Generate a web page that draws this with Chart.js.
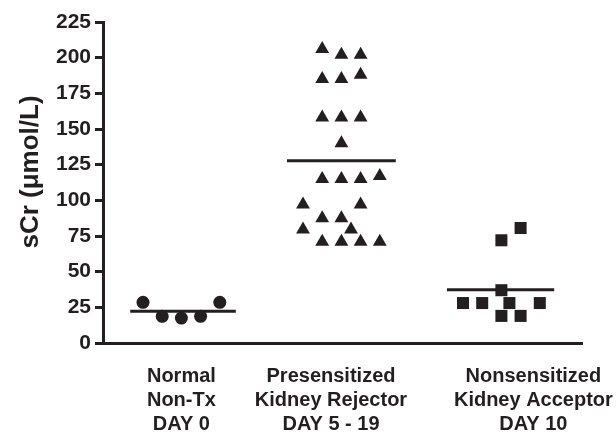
<!DOCTYPE html>
<html>
<head>
<meta charset="utf-8">
<script src="https://cdn.jsdelivr.net/npm/chart.js@4.4.1/dist/chart.umd.min.js"></script>
<style>
  body { margin: 0; background: #fff; }
  #wrap { width: 616px; height: 434px; }
</style>
</head>
<body>
<div id="wrap"><canvas id="myChart" width="616" height="434"></canvas></div>
<script>
// category labels (multi line) and where they sit on the x scale
const categories = [
    ["Normal", "Non-Tx", "DAY 0"],
    ["Presensitized", "Kidney Rejector", "DAY 5 - 19"],
    ["Nonsensitized", "Kidney Acceptor", "DAY 10"]
];
const labelPositions = [0.49, 1.425, 2.69];

const yMin = 0;
const yMax = 225;
const yStep = 25;
const yTitle = "sCr (\u03bcmol/L)";

// Normal Non-Tx, day 0
const normalX = [0.25, 0.37, 0.49, 0.61, 0.73];
const normalY = [28.5, 18.7, 17.5, 18.7, 28.5];
const normalMeanX = [0.17, 0.83];
const normalMean = 22.2;

// Presensitized kidney rejector, day 5-19
const rejectorX = [1.37, 1.49, 1.61, 1.37, 1.49, 1.61, 1.37, 1.49, 1.61, 1.49,
                   1.37, 1.49, 1.61, 1.73, 1.25, 1.61, 1.37, 1.49, 1.25, 1.55,
                   1.37, 1.49, 1.61, 1.73];
const rejectorY = [206, 202, 202, 185, 185, 188, 158, 158, 158, 140,
                   115, 115, 115, 117, 97, 97, 87.5, 87.5, 79.5, 79.5,
                   71, 71, 71, 71];
const rejectorMeanX = [1.15, 1.83];
const rejectorMean = 127.8;

// Nonsensitized kidney acceptor, day 10
const acceptorX = [2.61, 2.49, 2.49, 2.25, 2.37, 2.54, 2.73, 2.49, 2.61];
const acceptorY = [80.6, 72, 37, 28, 28, 28, 28, 19, 19];
const acceptorMeanX = [2.15, 2.82];
const acceptorMean = 37.4;

const ink = "#231f20";
const fontFamily = "'Liberation Sans', Arial, sans-serif";

const toPoints = (xs, ys) => xs.map((x, i) => ({ x: x, y: ys[i] }));
const meanLine = (xs, m) => xs.map(x => ({ x: x, y: m }));

const pointSet = (xs, ys, style, radius) => ({
    type: "scatter",
    data: toPoints(xs, ys),
    pointStyle: style,
    pointRadius: radius,
    pointBackgroundColor: ink,
    pointBorderColor: ink,
    pointBorderWidth: 0,
    showLine: false
});

const lineSet = (xs, m) => ({
    type: "line",
    data: meanLine(xs, m),
    borderColor: ink,
    borderWidth: 3,
    pointRadius: 0,
    fill: false
});

// rotated y title drawn by hand so it sits where the reference has it
const yTitlePlugin = {
    id: "yTitle",
    afterDraw: (chart) => {
        const ctx = chart.ctx;
        ctx.save();
        ctx.translate(31, 172);
        ctx.rotate(-Math.PI / 2);
        ctx.font = "bold 26px " + fontFamily;
        ctx.fillStyle = ink;
        ctx.textAlign = "center";
        ctx.textBaseline = "middle";
        ctx.fillText(yTitle, 0, 0);
        ctx.restore();
    }
};

const ctx = document.getElementById("myChart").getContext("2d");
const myChart = new Chart(ctx, {
    data: {
        datasets: [
            pointSet(normalX, normalY, "circle", 6.5),
            lineSet(normalMeanX, normalMean),
            pointSet(rejectorX, rejectorY, "triangle", 8),
            lineSet(rejectorMeanX, rejectorMean),
            pointSet(acceptorX, acceptorY, "rect", 8.5),
            lineSet(acceptorMeanX, acceptorMean)
        ]
    },
    options: {
        responsive: false,
        animation: false,
        devicePixelRatio: 1,
        layout: { padding: { top: 22, right: 33, left: 0, bottom: 0 } },
        plugins: {
            legend: { display: false },
            tooltip: { enabled: false }
        },
        scales: {
            x: {
                type: "linear",
                min: 0,
                max: 3,
                afterFit: (s) => {
                    s.height = 91;
                    s.paddingLeft = 0;
                    s.paddingRight = 0;
                },
                afterBuildTicks: (s) => { s.ticks = labelPositions.map(v => ({ value: v })); },
                grid: { display: false, drawTicks: false },
                border: { display: false },
                ticks: {
                    autoSkip: false,
                    maxRotation: 0,
                    minRotation: 0,
                    padding: 21,
                    color: ink,
                    font: { family: fontFamily, size: 20, weight: "bold", lineHeight: 1.2 },
                    callback: (value, index) => categories[index]
                }
            },
            y: {
                min: yMin,
                max: yMax,
                afterFit: (s) => { s.width = 103; },
                grid: {
                    display: true,
                    drawOnChartArea: true,
                    drawTicks: true,
                    tickLength: 8,
                    lineWidth: 3,
                    // only the zero line runs across: it is the x axis line
                    color: (c) => (c.tick && c.tick.value === 0) ? ink : "rgba(0,0,0,0)",
                    tickColor: ink
                },
                border: { display: true, color: ink, width: 3 },
                ticks: {
                    stepSize: yStep,
                    padding: 4,
                    color: ink,
                    font: { family: fontFamily, size: 21, weight: "bold" }
                }
            }
        }
    },
    plugins: [yTitlePlugin]
});
</script>
</body>
</html>
